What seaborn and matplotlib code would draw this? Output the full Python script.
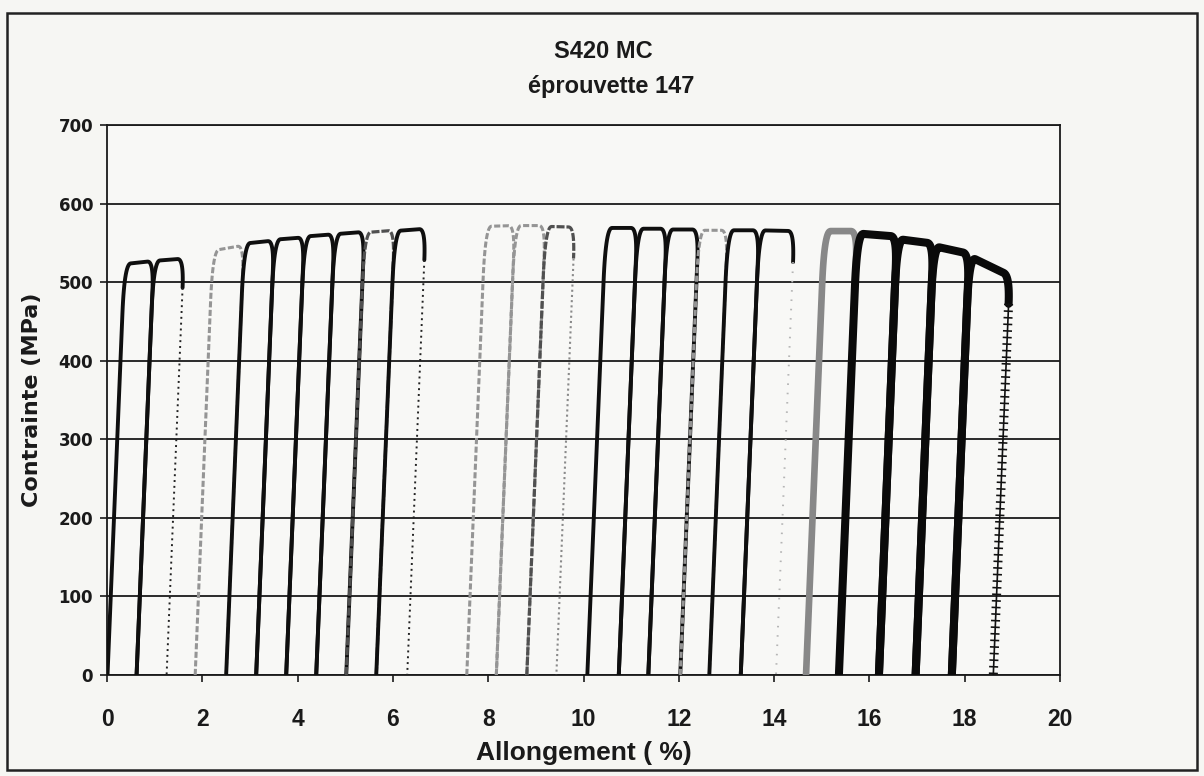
import numpy as np
import pandas as pd
import matplotlib
matplotlib.use("Agg")
import matplotlib.pyplot as plt
import seaborn as sns
from matplotlib.patches import Rectangle

# Strain (%) at the foot of each reloading branch
reload_start = [0.01, 0.62, 1.85, 2.50, 3.13, 3.76, 4.39, 5.02, 5.65,
                7.55, 8.17, 8.81, 10.08, 10.74, 11.36, 12.03, 12.64, 13.30,
                14.67, 15.36, 16.20, 16.97, 17.73]
# Residual strain (%) reached after unloading each cycle
unload_end = [0.62, 1.25, 2.50, 3.13, 3.76, 4.39, 5.02, 5.65, 6.30,
              8.17, 8.81, 9.43, 10.74, 11.36, 12.03, 12.64, 13.30, 14.04,
              15.36, 16.20, 16.97, 17.73, 18.60]
# Stress (MPa) at the start and the end of each plastic plateau
plateau_start = [523, 527, 540, 549, 554, 558, 561, 563, 565,
                 571, 572, 571, 569, 568, 567, 566, 566, 566,
                 565, 562, 555, 546, 533]
plateau_end = [527, 530, 547, 553, 557, 561, 564, 566, 568,
               572, 572, 570, 569, 568, 567, 566, 566, 565,
               565, 558, 549, 536, 508]
# Drawing style of each cycle and of its unloading branch
loop_style = ["solid", "solid", "light", "solid", "solid", "solid", "solid", "mid", "solid",
              "light", "light", "mid", "solid", "solid", "solid", "light", "solid", "solid",
              "heavy_gray", "heavy", "heavy", "heavy", "heavy"]
unload_style = ["same", "dots", "same", "same", "same", "same", "same", "same", "dots",
                "same", "same", "gray_dots", "same", "same", "same", "same", "same", "faint",
                "same", "same", "same", "same", "plus"]

x_ticks = list(range(0, 21, 2))
y_ticks = list(range(0, 701, 100))

E_MOD = 1470.0   # elastic slope, MPa per %
KNEE = 0.13      # width of the rounded corners, %

STYLES = {
    "solid": dict(color="#0f0f0f", lw=2.8, ls="-"),
    "light": dict(color="#959595", lw=2.2, ls=(0, (2.0, 0.8))),
    "mid": dict(color="#505050", lw=2.3, ls=(0, (2.5, 0.6))),
    "heavy": dict(color="#0a0a0a", lw=5.8, ls="-"),
    "heavy_gray": dict(color="#888888", lw=4.8, ls="-"),
    "dots": dict(color="#222222", lw=1.4, ls=(0, (1.0, 2.0))),
    "gray_dots": dict(color="#8a8a8a", lw=1.5, ls=(0, (1.0, 1.5))),
    "faint": dict(color="#b5b5b5", lw=1.4, ls=(0, (0.8, 4.0))),
}

SANS = ["Liberation Sans", "DejaVu Sans"]


def bezier(p0, c, p1, n=16):
    t = np.linspace(0, 1, n)[:, None]
    return (1 - t) ** 2 * np.array(p0) + 2 * (1 - t) * t * np.array(c) + t ** 2 * np.array(p1)


def cycle_paths(x0, x1, sa, sb):
    """Reload + plateau path, and the unloading branch, of one cycle."""
    la, lb = sa / E_MOD, sb / E_MOD
    ca = (x0 + la, sa)
    cb = (x1 + lb, sb)
    slope = (sb - sa) / max(cb[0] - ca[0], 1e-6)
    knee_a0 = (x0 + 0.88 * la, 0.88 * sa)
    knee_a1 = (ca[0] + KNEE, sa + slope * KNEE)
    knee_b0 = (cb[0] - KNEE, sb - slope * KNEE)
    knee_b1 = (x1 + 0.93 * lb, 0.93 * sb)
    up = np.vstack([[x0, 0.0], knee_a0, bezier(knee_a0, ca, knee_a1),
                    bezier(knee_b0, cb, knee_b1)])
    down = np.array([knee_b1, [x1, 0.0]])
    return up, down


def draw(ax, pts, style):
    df = pd.DataFrame({"Allongement": pts[:, 0], "Contrainte": pts[:, 1]})
    st = STYLES[style]
    sns.lineplot(data=df, x="Allongement", y="Contrainte", sort=False,
                 estimator=None, ax=ax, color=st["color"], lw=st["lw"], zorder=3)
    ax.lines[-1].set_linestyle(st["ls"])
    ax.lines[-1].set_solid_capstyle("round")


sns.set_theme(style="white")
plt.rcParams["font.family"] = ["DejaVu Sans"]

fig = plt.figure(figsize=(12.04, 7.76), dpi=100)
fig.patch.set_facecolor("#f6f6f3")
ax = fig.add_axes([0.0889, 0.1302, 0.7915, 0.7087])
ax.set_facecolor("#f8f8f6")

for i in range(len(reload_start)):
    up, down = cycle_paths(reload_start[i], unload_end[i], plateau_start[i], plateau_end[i])
    st_loop = loop_style[i]
    st_unl = unload_style[i]
    if st_unl == "same":
        draw(ax, np.vstack([up, down]), st_loop)
    elif st_unl == "plus":
        draw(ax, up, st_loop)
        df = pd.DataFrame({"Allongement": down[:, 0], "Contrainte": down[:, 1]})
        # thin spine of the cross-marked branch
        sns.lineplot(data=df, x="Allongement", y="Contrainte", sort=False,
                     estimator=None, ax=ax, color="#111111", lw=1.2, zorder=3)
        # short perpendicular bars give the "+" marker train
        sns.lineplot(data=df, x="Allongement", y="Contrainte", sort=False,
                     estimator=None, ax=ax, color="#111111", lw=6.5, zorder=3)
        ax.lines[-1].set_linestyle((0, (0.18, 0.55)))
        ax.lines[-1].set_dash_capstyle("butt")
    else:
        draw(ax, up, st_loop)
        draw(ax, down, st_unl)

ax.set_xlim(0, 20)
ax.set_ylim(0, 700)
ax.set_xticks(x_ticks)
ax.set_yticks(y_ticks)
ax.set_xticklabels([str(v) for v in x_ticks])
ax.set_yticklabels([str(v) for v in y_ticks])

ax.yaxis.grid(True, color="#1a1a1a", lw=1.3)
ax.xaxis.grid(False)
ax.set_axisbelow(True)
for side in ["left", "bottom", "right", "top"]:
    ax.spines[side].set_visible(True)
    ax.spines[side].set_color("#1a1a1a")
    ax.spines[side].set_linewidth(1.3)

ax.tick_params(axis="y", direction="out", length=5, width=1.2, color="#1a1a1a",
               pad=5, left=True)
ax.tick_params(axis="x", direction="out", length=5, width=1.2, color="#1a1a1a",
               pad=19, bottom=True)
for lab in ax.get_yticklabels():
    lab.set_fontweight("bold")
    lab.set_fontsize(12)
    lab.set_color("#1a1a1a")
for lab in ax.get_xticklabels():
    lab.set_family(SANS)
    lab.set_fontweight("bold")
    lab.set_fontsize(16.5)
    lab.set_color("#1a1a1a")

ax.set_ylabel("Contrainte (MPa)", fontsize=16, fontweight="bold", color="#1a1a1a")
ax.yaxis.set_label_coords(-0.068, 0.5)
ax.set_xlabel("Allongement ( %)", fontsize=19, fontweight="bold", color="#1a1a1a",
              family=SANS)
ax.xaxis.set_label_coords(0.5005, -0.12)

fig.text(0.501, 0.933, "S420 MC", ha="center", va="center", fontsize=17,
         fontweight="bold", color="#1a1a1a", family=SANS)
fig.text(0.508, 0.889, "éprouvette 147", ha="center", va="center", fontsize=17,
         fontweight="bold", color="#1a1a1a", family=SANS)

fig.add_artist(Rectangle((0.0058, 0.0077), 0.9884, 0.9755, transform=fig.transFigure,
                         fill=False, ec="#222222", lw=1.8))

fig.savefig("out.png", dpi=100, facecolor=fig.get_facecolor())
